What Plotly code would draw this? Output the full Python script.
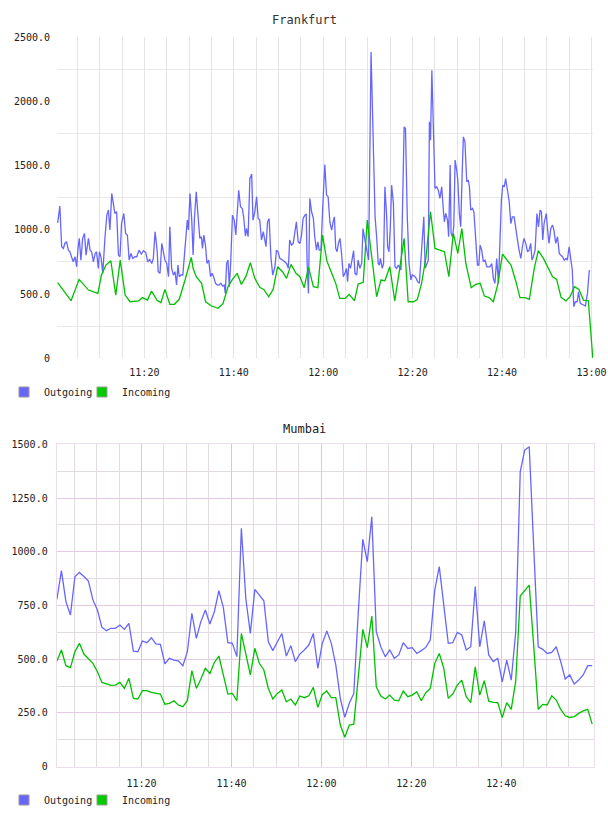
import plotly.graph_objects as go
import pandas as pd

BASE = pd.Timestamp("2024-01-01 11:00:00")

# ---------------- Frankfurt (minutes after 11:00, value) ----------------
fra_out_t = [0.6, 1.1, 1.5, 1.9, 2.2, 2.6, 3.0, 3.35, 3.7, 4.1, 4.5, 4.85, 5.2, 5.45, 5.8, 6.2, 6.6, 6.95,
             7.5, 7.85, 8.2, 8.6, 9.0, 9.3, 9.7, 9.95, 10.3, 10.7, 11.2, 11.6, 11.95, 12.3, 12.7, 13.05,
             13.4, 13.8, 14.2, 14.55, 14.9, 15.4, 15.8, 16.2, 16.6, 17.0, 17.4, 17.9, 18.3, 18.8, 19.3,
             19.8, 20.3, 20.75, 21.2, 21.65, 22.0, 22.4, 22.85, 23.1, 23.5, 23.9, 24.25, 24.6, 25.0,
             25.4, 25.7, 26.1, 26.5, 26.85, 27.2, 27.5, 27.8, 28.2, 28.6, 29.0, 29.3, 29.6, 29.85, 30.2,
             30.6, 30.9, 31.2, 31.6, 32.0, 32.4, 32.75, 33.0, 33.3, 33.7, 34.0, 34.4, 34.8, 35.15, 35.5,
             35.9, 36.35, 36.7, 37.1, 37.5, 37.85, 38.1, 38.4, 38.7, 39.0, 39.3, 39.7, 40.1, 40.45, 40.75,
             41.1, 41.5, 41.9, 42.2, 42.6, 42.85, 43.2, 43.6, 44.0, 44.3, 44.7, 45.1, 45.45, 45.8, 46.2,
             46.6, 46.95, 47.2, 47.55, 47.9, 48.3, 48.7, 49.2, 49.55, 49.9, 50.3, 50.65, 51.0, 51.4, 51.8,
             52.2, 52.5, 52.9, 53.3, 53.65, 54.0, 54.4, 54.8, 55.15, 55.5, 55.9, 56.2, 56.4, 56.7, 57.0,
             57.4, 57.8, 58.1, 58.5, 58.8, 59.1, 59.5, 59.85, 60.35, 60.75, 61.1, 61.5, 61.9, 62.2, 62.5,
             62.8, 63.1, 63.4, 63.75, 64.1, 64.5, 64.85, 65.2, 65.45, 65.75, 66.1, 66.5, 66.8, 67.1, 67.5,
             67.8, 68.2, 68.6, 68.9, 69.2, 69.5, 69.85, 70.15, 70.7, 71.05, 71.6, 71.95, 72.3, 72.55,
             72.8, 73.2, 73.5, 73.8, 74.2, 74.4, 74.7, 75.0, 75.3, 75.7, 76.05, 76.4, 76.8, 77.2, 77.4,
             77.7, 78.1, 78.4, 78.8, 79.2, 79.6, 79.9, 80.4, 80.8, 81.1, 81.5, 81.9, 82.2, 82.5, 82.8,
             83.1, 83.5, 83.75, 84.0, 84.3, 84.6, 85.0, 85.4, 85.75, 86.1, 86.5, 86.9, 87.1, 87.4, 87.8,
             88.05, 88.4, 88.6, 88.9, 89.2, 89.5, 89.85, 90.1, 90.45, 90.75, 91.1, 91.35, 91.7, 92.1,
             92.45, 92.7, 93.0, 93.4, 93.7, 94.1, 94.5, 94.8, 95.1, 95.45, 95.8, 96.2, 96.6, 96.95, 97.3,
             97.7, 98.05, 98.4, 98.8, 99.2, 99.5, 99.85, 100.15, 100.5, 100.8, 101.2, 101.6, 101.95,
             102.3, 102.7, 103.05, 103.4, 103.8, 104.2, 104.55, 104.9, 105.3, 105.7, 106.05, 106.4,
             106.7, 107.0, 107.4, 107.8, 108.15, 108.5, 108.8, 109.1, 109.4, 109.9, 110.2, 110.5, 110.9,
             111.3, 111.6, 112.0, 112.4, 112.8, 113.1, 113.5, 113.9, 114.3, 114.6, 115.0, 115.4, 115.7,
             116.05, 116.4, 116.8, 117.1, 117.5, 117.85, 118.2, 118.65, 119.1, 119.5, 119.7]
fra_out_v = [1054, 1184, 868, 855, 894, 907, 842, 829, 790, 751, 790, 712, 868, 933, 764, 933, 972, 803,
             933, 842, 829, 751, 816, 829, 700, 829, 790, 661, 946, 1114, 1153, 998, 1283, 1218,
             1127, 1140, 803, 790, 1049, 1127, 972, 959, 764, 816, 777, 790, 790, 842, 811,
             837, 824, 751, 770, 738, 777, 985, 842, 674, 661, 894, 816, 764, 738,
             635, 1023, 700, 648, 674, 570, 725, 635, 648, 648, 829, 894, 1075, 998, 1283,
             1075, 803, 1088, 1296, 1114, 933, 946, 855, 959, 868, 738, 764, 635, 661, 635,
             583, 570, 570, 583, 562, 570, 505, 738, 764, 557, 738, 1114, 1075, 959, 1114,
             1308, 1179, 1166, 1101, 951, 1010, 946, 1399, 1433, 1075, 1140, 1257, 1088, 1075, 920,
             985, 907, 868, 1062, 1088, 790, 648, 712, 842, 829, 777, 770, 764, 751, 738,
             700, 920, 881, 894, 972, 1062, 907, 894, 959, 1088, 1114, 1122, 738, 505, 1244,
             1140, 1088, 946, 842, 907, 842, 842, 1140, 1508, 1270, 1257, 1055, 998, 1062, 1101,
             855, 829, 894, 933, 816, 635, 661, 700, 596, 738, 700, 764, 837, 661, 648,
             764, 700, 738, 1010, 946, 881, 816, 764, 2384, 1775, 1101, 946, 738, 725,
             777, 700, 738, 1334, 1101, 868, 829, 1010, 1347, 1205, 712, 700, 725, 700, 687,
             1101, 1801, 1788, 1101, 738, 609, 648, 640, 622, 596, 583, 790, 998, 1101, 700,
             725, 764, 1840, 1697, 2241, 1814, 1321, 1334, 1308, 1244, 1334, 1140, 1062, 1127, 1075,
             946, 1503, 972, 946, 1023, 1542, 1464, 1386, 1127, 1023, 1464, 1723, 1684, 1373,
             1386, 1334, 1153, 1166, 1140, 946, 725, 725, 881, 842, 751, 764, 712, 712, 712,
             738, 622, 583, 777, 583, 946, 1231, 1347, 1334, 1399, 1308, 1218, 1049,
             1101, 1101, 998, 933, 842, 777, 868, 933, 894, 829, 842, 894,
             764, 790, 842, 1127, 1023, 1153, 1140, 920, 1049, 1127, 998, 894, 1010,
             1036, 998, 894, 946, 816, 803, 790, 764, 777, 764, 868, 764, 687,
             402, 440, 440, 518, 427, 422, 415, 407, 505, 681, 679]

fra_in_t = [0.6, 2.1, 3.6, 5.4, 7.5, 9.6, 10.4, 11.4, 12.5, 13.6, 14.6, 15.7, 16.8, 18.7, 19.6, 20.7,
            21.6, 22.8, 23.7, 24.6, 25.7, 26.7, 27.8, 29.1, 30.5, 30.9, 31.6, 32.8, 33.7, 35.0, 36.5,
            37.6, 38.7, 39.7, 40.75, 41.7, 42.7, 43.7, 44.7, 45.8, 46.7, 47.8, 48.8, 49.8, 50.9, 51.8,
            52.8, 53.9, 54.8, 55.75, 56.7, 57.8, 58.8, 59.85, 60.8, 61.9, 62.8, 63.7, 64.9, 65.8, 67.0,
            67.8, 68.95, 69.85, 71.0, 71.95, 72.9, 73.8, 74.9, 76.0, 76.95, 78.1, 79.0, 80.2, 81.05,
            82.0, 83.0, 84.0, 85.0, 86.1, 87.1, 88.1, 89.1, 90.1, 91.0, 91.9, 93.1, 94.1, 95.1, 96.05,
            97.1, 98.05, 99.0, 100.1, 101.05, 102.0, 103.1, 104.0, 105.15, 106.1, 107.2, 108.1, 109.25,
            110.2, 111.3, 112.2, 113.2, 114.3, 115.2, 116.2, 117.2, 118.2, 119.3, 120.3]
fra_in_v = [588, 518, 448, 614, 531, 505, 648, 725, 759, 492, 764, 492, 440, 446, 472, 453,
            523, 453, 433, 536, 420, 420, 459, 609, 785, 700, 635, 583, 440, 407, 389,
            427, 557, 614, 661, 575, 635, 744, 622, 552, 536, 479, 536, 712, 674, 622,
            731, 661, 635, 549, 712, 557, 549, 959, 760, 661, 583, 466, 466, 497, 448,
            578, 591, 1075, 764, 479, 609, 604, 712, 446, 661, 933, 440, 440, 459,
            583, 790, 1140, 855, 842, 829, 635, 972, 816, 1010, 738, 549, 575, 583, 484,
            472, 440, 570, 811, 770, 725, 596, 472, 472, 459, 700, 837, 777,
            707, 635, 614, 474, 446, 479, 557, 536, 453, 448, 0]

# ---------------- Mumbai (one sample per minute from 11:01:12) ----------------
mum_start_min = 1.2
mum_out = [779, 912, 768, 706, 884, 904, 885, 864, 776, 729, 649, 633, 644, 644, 659, 639, 667, 538, 535, 585,
           577, 600, 571, 569, 478, 504, 496, 493, 470, 535, 714, 597, 675, 729, 664, 721, 819, 740, 577, 574,
           512, 1109, 780, 620, 825, 800, 772, 581, 540, 580, 620, 515, 563, 489, 524, 543, 566, 620, 458, 574,
           631, 574, 473, 318, 230, 295, 341, 720, 1058, 954, 1163, 628, 558, 512, 543, 504, 520, 577, 550, 554,
           527, 540, 555, 589, 822, 931, 745, 574, 577, 625, 613, 543, 558, 838, 558, 679, 520, 489, 504, 395,
           496, 403, 628, 1373, 1473, 1489, 1020, 558, 546, 527, 532, 558, 489, 408, 427, 385, 403, 427, 470, 470]
mum_in = [492, 543, 470, 461, 535, 574, 524, 504, 481, 442, 392, 385, 378, 380, 392, 364, 411, 318, 315, 354,
          354, 346, 341, 338, 291, 295, 307, 287, 279, 307, 447, 364, 408, 458, 434, 485, 515, 427, 338, 341,
          307, 620, 527, 427, 551, 481, 450, 364, 315, 341, 357, 302, 315, 287, 329, 321, 330, 369, 276, 336,
          352, 321, 321, 194, 137, 194, 198, 426, 639, 554, 701, 372, 329, 315, 333, 310, 307, 352, 326, 333,
          349, 307, 344, 364, 481, 527, 458, 318, 338, 380, 403, 326, 298, 465, 333, 400, 305, 299, 298, 229,
          298, 267, 398, 794, 822, 845, 560, 267, 290, 287, 330, 310, 267, 237, 229, 233, 248, 260, 267, 198]

fra_y_labels = [0, 500, 1000, 1500, 2000, 2500]
mum_y_labels = [0, 250, 500, 750, 1000, 1250, 1500]

# ---------------- helpers ----------------
def to_time(mins):
    return [BASE + pd.Timedelta(minutes=m) for m in mins]

def fmt(v):
    return "0" if v == 0 else f"{v:.1f}"

OUT_C = "#6666ff"
IN_C = "#00c000"
SWATCH = {"Outgoing": "#6666ff", "Incoming": "#00cc00"}
W, H = 608, 816
MONO = "DejaVu Sans Mono"

fra_out_x = to_time(fra_out_t)
fra_in_x = to_time(fra_in_t)
mum_x = to_time([mum_start_min + i for i in range(len(mum_out))])

five_min = [BASE + pd.Timedelta(minutes=m) for m in range(5, 121, 5)]

fig = go.Figure()
fig.add_trace(go.Scatter(x=fra_out_x, y=fra_out_v, mode="lines", line=dict(color=OUT_C, width=1.3),
                         xaxis="x", yaxis="y", showlegend=False, name="Outgoing"))
fig.add_trace(go.Scatter(x=fra_in_x, y=fra_in_v, mode="lines", line=dict(color=IN_C, width=1.3),
                         xaxis="x", yaxis="y", showlegend=False, name="Incoming"))
fig.add_trace(go.Scatter(x=mum_x, y=mum_out, mode="lines", line=dict(color=OUT_C, width=1.3),
                         xaxis="x2", yaxis="y2", showlegend=False, name="Outgoing"))
fig.add_trace(go.Scatter(x=mum_x, y=mum_in, mode="lines", line=dict(color=IN_C, width=1.3),
                         xaxis="x2", yaxis="y2", showlegend=False, name="Incoming"))

# legend swatches (square markers), one single-item legend each
legend_ids = {("x", "Outgoing"): "legend", ("x", "Incoming"): "legend3",
              ("x2", "Outgoing"): "legend2", ("x2", "Incoming"): "legend4"}
for (xa, name), lg in legend_ids.items():
    ya = "y" if xa == "x" else "y2"
    fig.add_trace(go.Scatter(x=[None], y=[None], mode="markers", name=name,
                             marker=dict(symbol="square", size=10, color=SWATCH[name],
                                         line=dict(color="#999999", width=1)),
                             xaxis=xa, yaxis=ya, legend=lg, showlegend=True))

tick_font = dict(family=MONO, size=10, color="#222222")

fra_xticks = five_min
fra_xtext = [t.strftime("%H:%M") if t.minute % 20 == 0 else "" for t in fra_xticks]

mum_major = [t for t in five_min if t.minute % 20 == 0 and t <= BASE + pd.Timedelta(minutes=100)]
mum_minor = [t for t in five_min if t.minute % 20 != 0 and t <= BASE + pd.Timedelta(minutes=115)]

def px_x(a, b):
    return [a / W, b / W]

def px_y(top, bottom):
    return [(H - bottom) / H, (H - top) / H]

def legend_at(px_left, px_center_y):
    return dict(orientation="h", x=px_left / W, xanchor="left", y=(H - px_center_y) / H,
                yanchor="middle", font=dict(family=MONO, size=10, color="#222222"),
                bgcolor="rgba(0,0,0,0)", borderwidth=0, itemclick=False, itemdoubleclick=False)

fig.update_layout(
    width=W, height=H, autosize=False,
    margin=dict(l=0, r=0, t=0, b=0, autoexpand=False),
    paper_bgcolor="white", plot_bgcolor="white",
    font=dict(family=MONO, size=10, color="#222222"),
    xaxis=dict(domain=px_x(57, 593), anchor="y", type="date", automargin=False,
               range=[BASE + pd.Timedelta(minutes=0.46), BASE + pd.Timedelta(minutes=120.34)],
               tickmode="array", tickvals=fra_xticks, ticktext=fra_xtext,
               showgrid=True, gridcolor="#e4e4e4", gridwidth=1, zeroline=False, showline=False,
               ticks="", tickfont=tick_font, ticklabelstandoff=7),
    yaxis=dict(domain=px_y(37, 358.3), anchor="x", range=[0, 2500], automargin=False,
               tickmode="array", tickvals=fra_y_labels, ticktext=[fmt(v) for v in fra_y_labels],
               showgrid=False, zeroline=False, showline=False, ticks="", tickfont=tick_font,
               ticklabelstandoff=6,
               minor=dict(tickmode="array", tickvals=[v + 250 for v in fra_y_labels[:-1]],
                          showgrid=True, gridcolor="#e8e8e8", gridwidth=1, ticks="")),
    xaxis2=dict(domain=px_x(56.7, 594), anchor="y2", type="date", automargin=False,
                range=[BASE + pd.Timedelta(minutes=1.15), BASE + pd.Timedelta(minutes=120.6)],
                tickmode="array", tickvals=mum_major, ticktext=[t.strftime("%H:%M") for t in mum_major],
                showgrid=True, gridcolor="#dfc4df", gridwidth=1, zeroline=False,
                showline=True, mirror=True, linecolor="#ecdcee", linewidth=1,
                ticks="", tickfont=tick_font, ticklabelstandoff=7,
                minor=dict(tickmode="array", tickvals=mum_minor, showgrid=True,
                           gridcolor="#e2dce2", gridwidth=1, ticks="")),
    yaxis2=dict(domain=px_y(444.3, 766.7), anchor="x2", range=[0, 1500], automargin=False,
                tickmode="array", tickvals=mum_y_labels, ticktext=[fmt(v) for v in mum_y_labels],
                showgrid=True, gridcolor="#e4cbe4", gridwidth=1, zeroline=False,
                showline=True, mirror=True, linecolor="#ecdcee", linewidth=1,
                ticks="", tickfont=tick_font, ticklabelstandoff=6,
                minor=dict(tickmode="array", tickvals=[v + 125 for v in mum_y_labels[:-1]],
                           showgrid=True, gridcolor="#e2dce2", gridwidth=1, ticks="")),
    legend=legend_at(4, 392),
    legend3=legend_at(82, 392),
    legend2=legend_at(4, 800),
    legend4=legend_at(82, 800),
    annotations=[
        dict(text="Frankfurt", x=0.5, y=(H - 20) / H, xref="paper", yref="paper",
             xanchor="center", yanchor="middle", showarrow=False,
             font=dict(family=MONO, size=12, color="#333333")),
        dict(text="Mumbai", x=0.5, y=(H - 429) / H, xref="paper", yref="paper",
             xanchor="center", yanchor="middle", showarrow=False,
             font=dict(family=MONO, size=12, color="#222222")),
    ],
)

fig.write_html("out.html")
